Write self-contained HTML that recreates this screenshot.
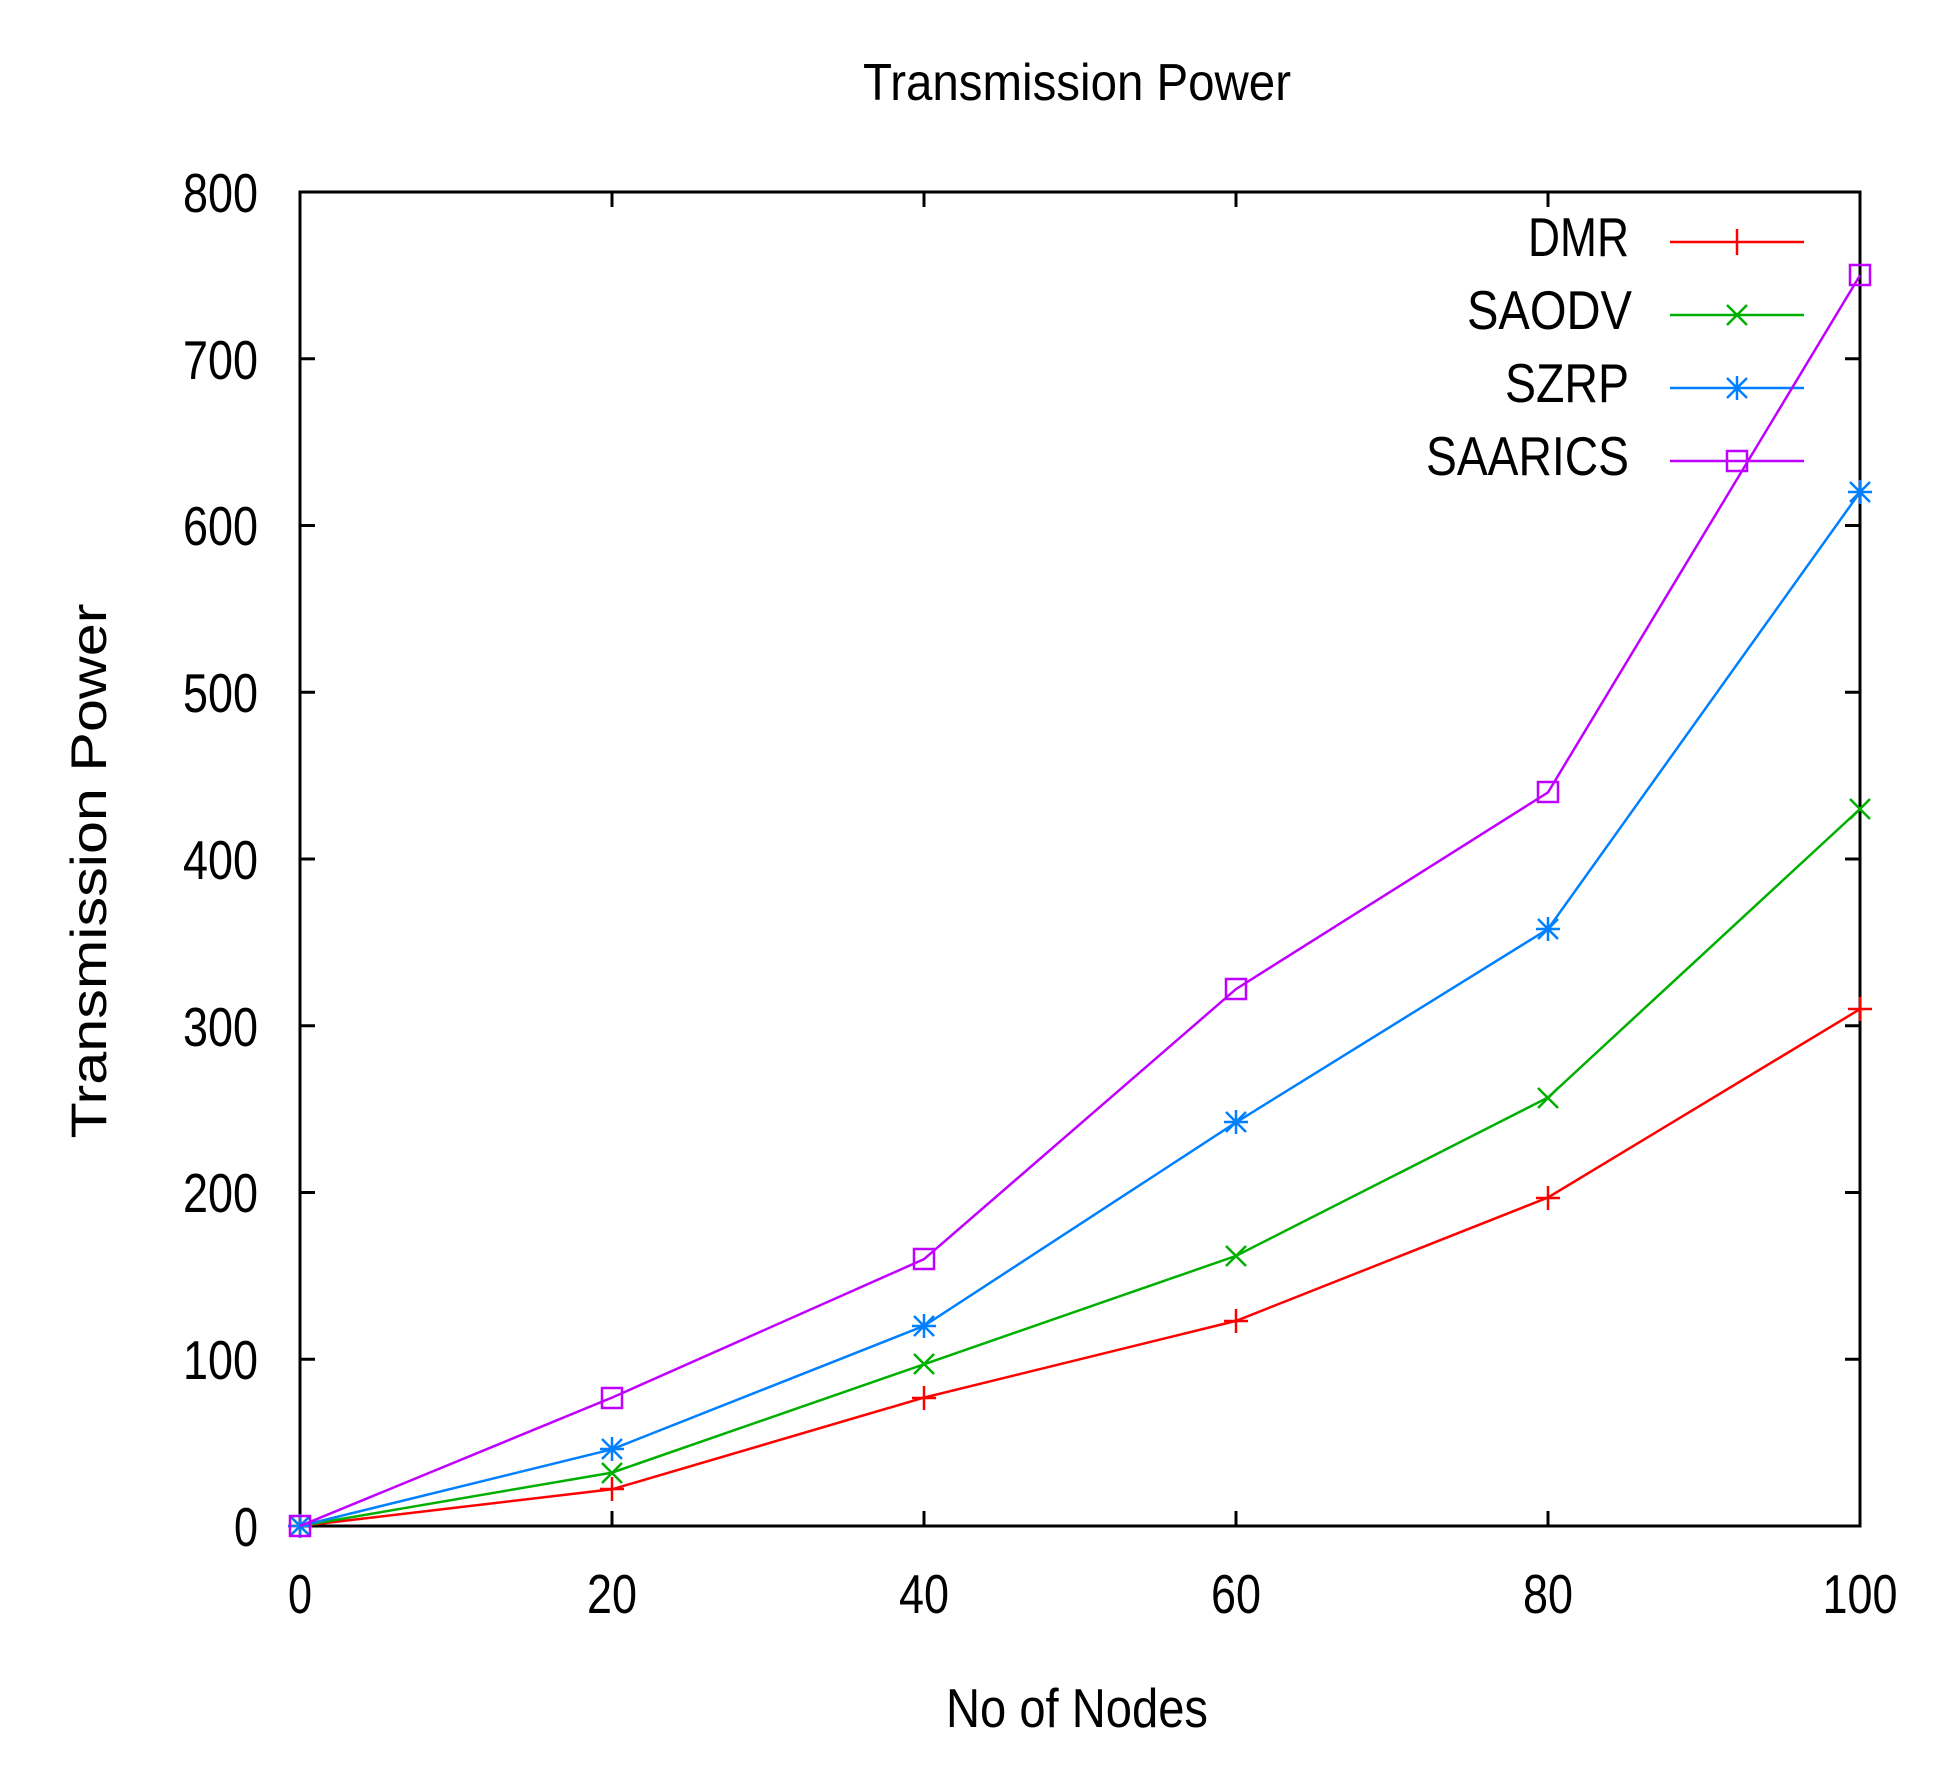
<!DOCTYPE html>
<html><head><meta charset="utf-8"><style>html,body{margin:0;padding:0;background:#fff}</style></head>
<body>
<svg width="1942" height="1768" viewBox="0 0 1942 1768" xmlns="http://www.w3.org/2000/svg" font-family="Liberation Sans, sans-serif">
<rect width="1942" height="1768" fill="#fff"/>
<text x="1077" y="100" font-size="52" text-anchor="middle" textLength="428" lengthAdjust="spacingAndGlyphs">Transmission Power</text>
<text x="1077" y="1727" font-size="55" text-anchor="middle" textLength="262" lengthAdjust="spacingAndGlyphs">No of Nodes</text>
<text transform="translate(106,871) rotate(-90)" font-size="50" text-anchor="middle" textLength="535" lengthAdjust="spacingAndGlyphs">Transmission Power</text>
<g stroke="#000" stroke-width="3">
<rect x="300" y="192" width="1560" height="1334" fill="none"/>
<path d="M300 1359.25h15M300 1192.5h15M300 1025.75h15M300 859h15M300 692.25h15M300 525.5h15M300 358.75h15M1860 1359.25h-15M1860 1192.5h-15M1860 1025.75h-15M1860 859h-15M1860 692.25h-15M1860 525.5h-15M1860 358.75h-15"/>
<path d="M612 1526v-15M924 1526v-15M1236 1526v-15M1548 1526v-15M612 192v15M924 192v15M1236 192v15M1548 192v15"/>
</g>
<g font-size="55" text-anchor="end">
<text x="258" y="1546" textLength="24" lengthAdjust="spacingAndGlyphs">0</text>
<text x="258" y="1379" textLength="75" lengthAdjust="spacingAndGlyphs">100</text>
<text x="258" y="1212" textLength="75" lengthAdjust="spacingAndGlyphs">200</text>
<text x="258" y="1046" textLength="75" lengthAdjust="spacingAndGlyphs">300</text>
<text x="258" y="879" textLength="75" lengthAdjust="spacingAndGlyphs">400</text>
<text x="258" y="712" textLength="75" lengthAdjust="spacingAndGlyphs">500</text>
<text x="258" y="545" textLength="75" lengthAdjust="spacingAndGlyphs">600</text>
<text x="258" y="379" textLength="75" lengthAdjust="spacingAndGlyphs">700</text>
<text x="258" y="212" textLength="75" lengthAdjust="spacingAndGlyphs">800</text>
</g>
<g font-size="55" text-anchor="middle">
<text x="300" y="1613" textLength="24" lengthAdjust="spacingAndGlyphs">0</text>
<text x="612" y="1613" textLength="50" lengthAdjust="spacingAndGlyphs">20</text>
<text x="924" y="1613" textLength="50" lengthAdjust="spacingAndGlyphs">40</text>
<text x="1236" y="1613" textLength="50" lengthAdjust="spacingAndGlyphs">60</text>
<text x="1548" y="1613" textLength="50" lengthAdjust="spacingAndGlyphs">80</text>
<text x="1860" y="1613" textLength="75" lengthAdjust="spacingAndGlyphs">100</text>
</g>
<g font-size="55" text-anchor="end">
<text x="1629" y="256" textLength="101" lengthAdjust="spacingAndGlyphs">DMR</text>
<text x="1632" y="329" textLength="165" lengthAdjust="spacingAndGlyphs">SAODV</text>
<text x="1629" y="402" textLength="124" lengthAdjust="spacingAndGlyphs">SZRP</text>
<text x="1629" y="475" textLength="203" lengthAdjust="spacingAndGlyphs">SAARICS</text>
</g>
<g fill="none" stroke-width="2.5">
<g stroke="#ff0000">
<polyline points="300,1526 612,1489.3 924,1397.6 1236,1320.9 1548,1197.5 1860,1009.1"/>
<path d="M300 1514v24M288 1526h24M612 1477v24M600 1489h24M924 1386v24M912 1398h24M1236 1309v24M1224 1321h24M1548 1186v24M1536 1198h24M1860 997v24M1848 1009h24"/>
<path d="M1670 242h134M1737 229v26"/>
</g>
<g stroke="#00b000">
<polyline points="300,1526 612,1472.6 924,1364.3 1236,1255.9 1548,1097.5 1860,809"/>
<path d="M1727 305l20 20M1747 305l-20 20M1670 315h134"/>
<path d="M290 1516l20 20M310 1516l-20 20M602 1463l20 20M622 1463l-20 20M914 1354l20 20M934 1354l-20 20M1226 1246l20 20M1246 1246l-20 20M1538 1088l20 20M1558 1088l-20 20M1850 799l20 20M1870 799l-20 20"/>
</g>
<g stroke="#0080ff">
<polyline points="300,1526 612,1449.3 924,1325.9 1236,1122.4 1548,929 1860,492.2"/>
<path d="M1670 388h134M1727 378l20 20M1747 378l-20 20M1737 376v24M1725 388h24"/>
<path d="M290 1516l20 20M310 1516l-20 20M300 1514v24M288 1526h24"/>
<path d="M602 1439l20 20M622 1439l-20 20M612 1437v24M600 1449h24"/>
<path d="M914 1316l20 20M934 1316l-20 20M924 1314v24M912 1326h24"/>
<path d="M1226 1112l20 20M1246 1112l-20 20M1236 1110v24M1224 1122h24"/>
<path d="M1538 919l20 20M1558 919l-20 20M1548 917v24M1536 929h24"/>
<path d="M1850 482l20 20M1870 482l-20 20M1860 480v24M1848 492h24"/>
</g>
<g stroke="#c000ff">
<polyline points="300,1526 612,1397.6 924,1259.2 1236,989.1 1548,792.4 1860,275.4"/>
<path d="M1670 461h134"/>
<rect x="1727" y="451" width="20" height="20"/>
<rect x="290" y="1516" width="20" height="20"/>
<rect x="602" y="1388" width="20" height="20"/>
<rect x="914" y="1249" width="20" height="20"/>
<rect x="1226" y="979" width="20" height="20"/>
<rect x="1538" y="782" width="20" height="20"/>
<rect x="1850" y="265" width="20" height="20"/>
</g>
</g>
</svg>
</body></html>
